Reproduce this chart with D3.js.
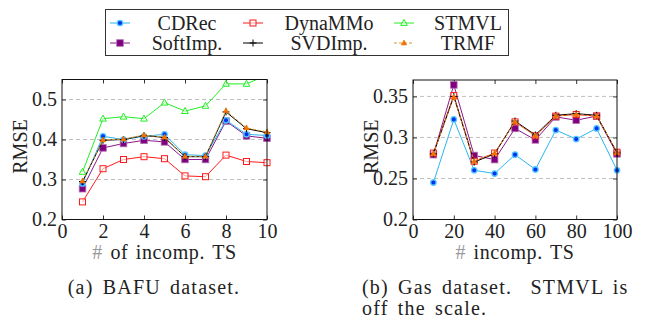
<!DOCTYPE html>
<html>
<head>
<meta charset="utf-8">
<script src="https://cdn.jsdelivr.net/npm/d3@7"></script>
<style>
  body { margin: 0; background: #fff; }
  svg text { font-family: "Liberation Serif", "DejaVu Serif", serif; fill: #222; }
</style>
</head>
<body>
<div class="chart"></div>
<script>
var svgWidth = 662;
var svgHeight = 318;

// x values of both datasets
var bafuX = [1, 2, 3, 4, 5, 6, 7, 8, 9, 10];
var gasX = [10, 20, 30, 40, 50, 60, 70, 80, 90, 100];

// BAFU RMSE values
var bafuCDRec = [0.290, 0.408, 0.400, 0.408, 0.413, 0.362, 0.360, 0.448, 0.413, 0.410];
var bafuDynaMMo = [0.244, 0.327, 0.350, 0.357, 0.352, 0.309, 0.307, 0.361, 0.345, 0.342];
var bafuSTMVL = [0.319, 0.452, 0.457, 0.452, 0.492, 0.471, 0.484, 0.539, 0.539, 0.561];
var bafuSoftImp = [0.277, 0.379, 0.390, 0.398, 0.394, 0.350, 0.350, 0.446, 0.409, 0.403];
var bafuSVDImp = [0.295, 0.398, 0.400, 0.410, 0.405, 0.357, 0.357, 0.469, 0.427, 0.417];
var bafuTRMF = [0.296, 0.399, 0.401, 0.411, 0.406, 0.358, 0.358, 0.472, 0.429, 0.419];

// Gas RMSE values (STMVL is off the scale, so it is not drawn)
var gasCDRec = [0.245, 0.322, 0.260, 0.256, 0.279, 0.261, 0.309, 0.298, 0.311, 0.260];
var gasDynaMMo = [0.281, 0.351, 0.271, 0.281, 0.319, 0.302, 0.326, 0.328, 0.326, 0.282];
var gasSoftImp = [0.279, 0.364, 0.278, 0.273, 0.311, 0.297, 0.325, 0.321, 0.326, 0.280];
var gasSVDImp = [0.280, 0.350, 0.270, 0.280, 0.320, 0.303, 0.327, 0.329, 0.327, 0.281];
var gasTRMF = [0.280, 0.349, 0.271, 0.281, 0.319, 0.302, 0.326, 0.328, 0.326, 0.282];

var bafuYTicks = [0.2, 0.3, 0.4, 0.5];
var gasYTicks = [0.2, 0.25, 0.3, 0.35];
var bafuXTicks = [0, 2, 4, 6, 8, 10];
var gasXTicks = [0, 20, 40, 60, 80, 100];

var legendNames = ["CDRec", "DynaMMo", "STMVL", "SoftImp.", "SVDImp.", "TRMF"];

var FONT = '"Liberation Serif", "DejaVu Serif", serif';

// look of every method
var styles = {
  "CDRec": { line: "#2ab6f0", mark: "circle", fill: "#0033ee", stroke: "#52c6ff" },
  "DynaMMo": { line: "#ff1a1a", mark: "square", fill: "#fff", stroke: "#ff1a1a" },
  "STMVL": { line: "#22ee22", mark: "triangle", fill: "#fff", stroke: "#22ee22" },
  "SoftImp.": { line: "#8a1a8a", mark: "bigsquare", fill: "#800080", stroke: "#b070b0" },
  "SVDImp.": { line: "#000", mark: "plus", fill: "none", stroke: "#000" },
  "TRMF": { line: "#d49a30", mark: "star", fill: "#ff6a00", stroke: "#e08000", dash: "3,2" }
};

var svg = d3.select(".chart")
  .append("svg")
  .attr("width", svgWidth)
  .attr("height", svgHeight);

function drawMark(g, name, cx, cy) {
  var s = styles[name];
  if (s.mark === "circle") {
    g.append("circle").attr("cx", cx).attr("cy", cy).attr("r", 2.7)
      .attr("fill", s.fill).attr("stroke", s.stroke).attr("stroke-width", 1.3);
  } else if (s.mark === "square") {
    g.append("rect").attr("x", cx - 3).attr("y", cy - 3).attr("width", 6).attr("height", 6)
      .attr("fill", s.fill).attr("fill-opacity", 0.6).attr("stroke", s.stroke).attr("stroke-width", 1);
  } else if (s.mark === "bigsquare") {
    g.append("rect").attr("x", cx - 3.3).attr("y", cy - 3.3).attr("width", 6.6).attr("height", 6.6)
      .attr("fill", s.fill).attr("stroke", s.stroke).attr("stroke-width", 0.8);
  } else if (s.mark === "triangle") {
    g.append("path").attr("d", `M${cx},${cy - 3.6}L${cx + 3.3},${cy + 2.4}L${cx - 3.3},${cy + 2.4}Z`)
      .attr("fill", s.fill).attr("fill-opacity", 0.5).attr("stroke", s.stroke).attr("stroke-width", 1);
  } else if (s.mark === "plus") {
    g.append("path").attr("d", `M${cx - 3.5},${cy}H${cx + 3.5}M${cx},${cy - 3.5}V${cy + 3.5}`)
      .attr("stroke", s.stroke).attr("stroke-width", 1);
  } else if (s.mark === "star") {
    g.append("path").attr("d", `M${cx},${cy - 3}L${cx + 2.7},${cy + 2}L${cx - 2.7},${cy + 2}Z`)
      .attr("fill", s.fill).attr("stroke", s.stroke).attr("stroke-width", 0.6);
  }
}

function drawPanel(opts) {
  var x = d3.scaleLinear().domain(opts.xDomain).range([opts.left, opts.right]);
  var y = d3.scaleLinear().domain(opts.yDomain).range([opts.bottom, opts.top]);
  var w = opts.right - opts.left;
  var h = opts.bottom - opts.top;
  var fmt = d => String(+d.toFixed(2));

  var g = svg.append("g");

  // dashed grid
  g.selectAll(".grid")
    .data(opts.yTicks.slice(1))
    .enter()
    .append("line")
    .attr("x1", opts.left).attr("x2", opts.right)
    .attr("y1", d => y(d)).attr("y2", d => y(d))
    .attr("stroke", "#b0b0b0").attr("stroke-dasharray", "4,3").attr("stroke-width", 0.8);

  // axes, ticks pointing inside
  var bottom = g.append("g").attr("transform", `translate(0,${opts.bottom})`)
    .call(d3.axisBottom(x).tickValues(opts.xTicks).tickSize(-4).tickPadding(4).tickFormat(fmt));
  var top = g.append("g").attr("transform", `translate(0,${opts.top})`)
    .call(d3.axisTop(x).tickValues(opts.xTicks).tickSize(-4).tickFormat(""));
  var leftAx = g.append("g").attr("transform", `translate(${opts.left},0)`)
    .call(d3.axisLeft(y).tickValues(opts.yTicks).tickSize(-4).tickPadding(5).tickFormat(fmt));
  var rightAx = g.append("g").attr("transform", `translate(${opts.right},0)`)
    .call(d3.axisRight(y).tickValues(opts.yTicks).tickSize(-4).tickFormat(""));
  [bottom, top, leftAx, rightAx].forEach(function(a) {
    a.select(".domain").remove();
    a.attr("font-family", FONT).attr("font-size", 20);
    a.selectAll("line").attr("stroke", "#333");
    a.selectAll("text").attr("fill", "#222");
  });

  var clipId = "clip" + opts.id;
  svg.append("clipPath").attr("id", clipId)
    .append("rect").attr("x", opts.left - 5).attr("y", opts.top).attr("width", w + 10).attr("height", h);

  var plot = g.append("g").attr("clip-path", `url(#${clipId})`);
  var line = d3.line().x(d => x(d[0])).y(d => y(d[1]));

  opts.series.forEach(function(s) {
    var pts = opts.xs.map((v, i) => [v, s.values[i]]);
    var st = styles[s.name];
    plot.append("path")
      .datum(pts)
      .attr("d", line)
      .attr("fill", "none")
      .attr("stroke", st.line)
      .attr("stroke-width", 1)
      .attr("stroke-dasharray", st.dash || null);
    var mg = plot.append("g");
    pts.forEach(p => drawMark(mg, s.name, x(p[0]), y(p[1])));
  });

  // frame
  g.append("rect")
    .attr("x", opts.left).attr("y", opts.top).attr("width", w).attr("height", h)
    .attr("fill", "none").attr("stroke", "#111").attr("stroke-width", 1);

  g.append("text")
    .attr("transform", `translate(${opts.yLabelX},${(opts.top + opts.bottom) / 2 - 3}) rotate(-90)`)
    .attr("text-anchor", "middle")
    .attr("dy", "0.35em")
    .attr("font-family", FONT)
    .attr("font-size", "20px")
    .text("RMSE");

  // x label, the "#" is printed grey
  var xl = g.append("text")
    .attr("x", (opts.left + opts.right) / 2)
    .attr("y", 259)
    .attr("text-anchor", "middle")
    .attr("font-family", FONT)
    .attr("font-size", "20px")
    .attr("letter-spacing", "0.6px")
    .attr("word-spacing", "2px");
  xl.append("tspan").attr("fill", "#999").text("#");
  xl.append("tspan").text(" " + opts.xLabel);
}

drawPanel({
  id: "a", left: 62, right: 267, top: 79.5, bottom: 219.5,
  xDomain: [0, 10], yDomain: [0.2, 0.55],
  xTicks: bafuXTicks, yTicks: bafuYTicks, yLabelX: 20,
  xs: bafuX, xLabel: "of incomp. TS",
  series: [
    { name: "STMVL", values: bafuSTMVL },
    { name: "DynaMMo", values: bafuDynaMMo },
    { name: "SoftImp.", values: bafuSoftImp },
    { name: "CDRec", values: bafuCDRec },
    { name: "SVDImp.", values: bafuSVDImp },
    { name: "TRMF", values: bafuTRMF }
  ]
});

drawPanel({
  id: "b", left: 413, right: 617, top: 80, bottom: 219.5,
  xDomain: [0, 100], yDomain: [0.2, 0.37],
  xTicks: gasXTicks, yTicks: gasYTicks, yLabelX: 371,
  xs: gasX, xLabel: "incomp. TS",
  series: [
    { name: "CDRec", values: gasCDRec },
    { name: "SoftImp.", values: gasSoftImp },
    { name: "DynaMMo", values: gasDynaMMo },
    { name: "SVDImp.", values: gasSVDImp },
    { name: "TRMF", values: gasTRMF }
  ]
});

// legend
var legend = svg.append("g");
legend.append("rect")
  .attr("x", 105.5).attr("y", 9.5).attr("width", 403).attr("height", 46)
  .attr("fill", "#fff").attr("stroke", "#333").attr("stroke-width", 1);

var colSample = [110, 243, 394];
var colText = [187, 329, 468];
var rowY = [23, 43];
legendNames.forEach(function(name, i) {
  var c = i % 3, r = Math.floor(i / 3);
  var st = styles[name];
  legend.append("line")
    .attr("x1", colSample[c]).attr("x2", colSample[c] + 20)
    .attr("y1", rowY[r]).attr("y2", rowY[r])
    .attr("stroke", st.line).attr("stroke-width", 1)
    .attr("stroke-dasharray", st.dash || null);
  drawMark(legend, name, colSample[c] + 10, rowY[r]);
  legend.append("text")
    .attr("x", colText[c]).attr("y", rowY[r])
    .attr("dy", "0.35em")
    .attr("text-anchor", "middle")
    .attr("font-family", FONT)
    .attr("font-size", "20px")
    .text(name);
});

// captions
svg.append("text").attr("x", 154).attr("y", 294)
  .attr("text-anchor", "middle")
  .attr("font-family", FONT).attr("font-size", "20px")
  .attr("letter-spacing", "1.2px").attr("word-spacing", "3px")
  .text("(a) BAFU dataset.");
svg.append("text").attr("x", 362).attr("y", 294)
  .attr("font-family", FONT).attr("font-size", "20px").attr("xml:space", "preserve")
  .attr("letter-spacing", "1.2px").attr("word-spacing", "3px")
  .text("(b) Gas dataset.  STMVL is");
svg.append("text").attr("x", 362).attr("y", 315)
  .attr("font-family", FONT).attr("font-size", "20px")
  .attr("letter-spacing", "1.2px").attr("word-spacing", "3px")
  .text("off the scale.");
</script>
</body>
</html>
